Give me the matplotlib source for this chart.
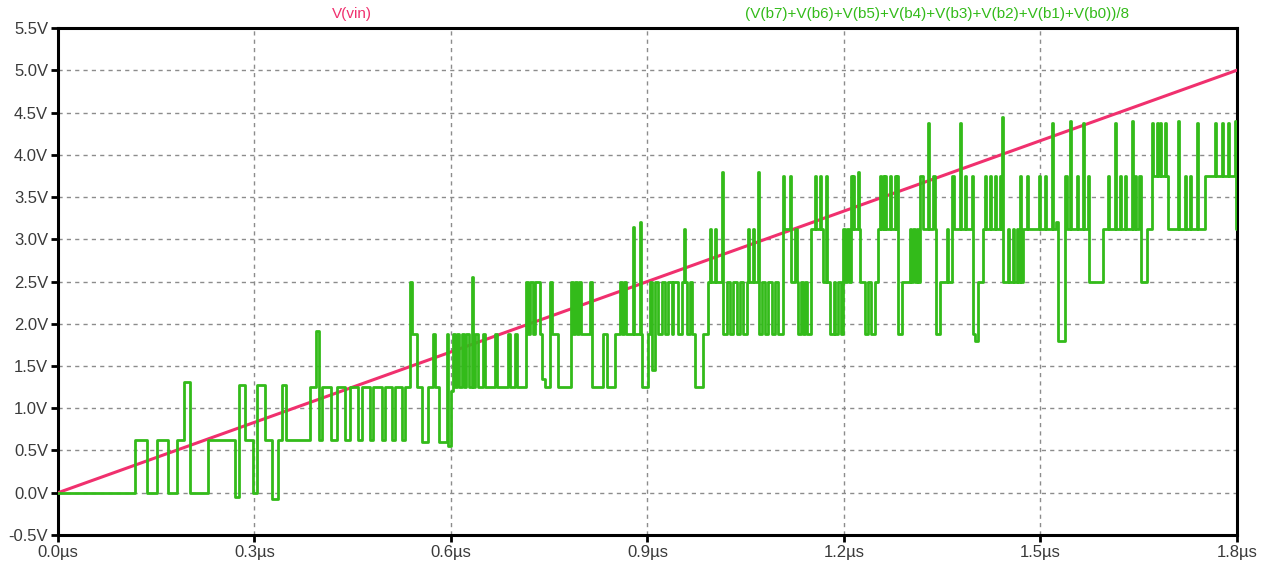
import numpy as np
import matplotlib
matplotlib.use("Agg")
import matplotlib.pyplot as plt
from matplotlib.ticker import FuncFormatter, MultipleLocator

plt.rcParams['font.family'] = ['Liberation Sans', 'DejaVu Sans']

# V(vin): linear ramp
vin_t = [0.0, 1.8]   # us
vin_v = [0.0, 5.0]   # V

# DAC sum (V(b7)+...+V(b0))/8, step points as (time in ns, volts)
seg_a = [(0, 0), (118, 0.625), (136, 0), (151, 0.625), (168, 0), (182, 0.625), (192, 1.31),
         (202, 0), (229, 0.625), (270, -0.05), (276, 1.28), (285, 0.625), (298, 0), (304, 1.28),
         (316, 0.625), (327, -0.07), (336, 0.625), (342, 1.28), (348, 0.625)]
seg_b = [(385, 1.25), (394, 1.92), (398, 0.625), (403, 1.25), (417, 0.625), (426, 1.25),
         (438, 0.625), (446, 1.25), (458, 0.625), (464, 1.25), (476, 0.625), (481, 1.25),
         (495, 0.625), (499, 1.25), (510, 0.625), (514, 1.25), (525, 0.625), (530, 1.25),
         (537, 2.5), (540, 1.875), (548, 1.25), (556, 0.6), (565, 1.25), (573, 1.875),
         (576, 1.25), (582, 0.6), (594, 1.875), (595, 0.55), (600, 1.2)]
seg_c = [(603, 1.875), (606, 1.25), (609, 1.875), (612, 1.25), (617, 1.875), (620, 1.25),
         (623, 1.875), (627, 1.25), (632, 2.55), (634, 1.25), (637, 1.875), (641, 1.25),
         (649, 1.875), (652, 1.25), (667, 1.875), (670, 1.25), (687, 1.875), (690, 1.25),
         (698, 1.875), (701, 1.25), (715, 2.5)]
seg_d = [(718, 1.875), (721, 2.5), (725, 1.875), (728, 2.5), (736, 1.875), (739, 1.35),
         (744, 1.25), (751, 2.5), (754, 1.875), (763, 1.25), (783, 2.5), (786, 1.875),
         (789, 2.5), (792, 1.875), (795, 2.5), (798, 1.875), (812, 2.5), (815, 1.25),
         (832, 1.875), (838, 1.25), (850, 1.875), (858, 2.5), (861, 1.875), (864, 2.5),
         (867, 1.875), (878, 3.15), (879, 1.875), (889, 3.2), (890, 1.875), (892, 1.25),
         (901, 1.875), (904, 2.5), (907, 1.45), (911, 2.5)]
seg_e = [(916, 1.875), (922, 2.5), (927, 1.875), (931, 2.5), (937, 1.875), (939, 2.5),
         (947, 1.875), (953, 2.5), (956, 3.125), (957, 2.5), (960, 1.875), (965, 2.5),
         (968, 1.875), (973, 1.25), (985, 1.875), (992, 2.5), (995, 3.125), (997, 2.5),
         (1003, 3.125), (1005, 2.5), (1014, 3.8), (1015, 1.875), (1021, 2.5), (1026, 1.875),
         (1031, 2.5), (1037, 1.875), (1041, 2.5), (1046, 1.875), (1052, 2.5), (1053, 3.125),
         (1055, 2.5), (1061, 3.125), (1063, 2.5), (1069, 3.8), (1070, 1.875), (1075, 2.5),
         (1079, 1.875), (1084, 2.5), (1090, 1.875), (1095, 2.5), (1099, 1.875)]
seg_f = [(1107, 3.75), (1108, 3.125), (1118, 3.75), (1119, 2.5), (1125, 3.125), (1128, 2.5),
         (1130, 1.875), (1134, 2.5), (1137, 1.875), (1140, 2.5), (1144, 1.875), (1150, 3.125),
         (1156, 3.75), (1157, 3.125), (1163, 3.75), (1165, 3.125), (1168, 2.5), (1173, 3.75),
         (1174, 2.5), (1179, 1.875), (1185, 2.5), (1186, 1.875), (1191, 2.5), (1195, 1.875),
         (1198, 3.125), (1202, 2.5), (1205, 3.125), (1208, 2.5), (1211, 3.75), (1212, 3.125),
         (1214, 3.75), (1215, 3.125), (1221, 3.8), (1223, 3.125), (1224, 2.5), (1232, 1.875),
         (1237, 2.5), (1241, 1.875), (1247, 2.5), (1252, 3.125), (1255, 3.75), (1256, 3.125),
         (1260, 3.75), (1261, 3.125), (1263, 3.75), (1264, 3.125), (1270, 3.75), (1272, 3.125),
         (1278, 3.75), (1279, 3.125)]
seg_g = [(1281, 3.75), (1282, 1.875), (1289, 2.5), (1301, 3.125), (1302, 2.5), (1305, 3.125),
         (1308, 2.5), (1311, 3.125), (1313, 2.5), (1316, 3.75), (1321, 3.125), (1328, 4.375),
         (1330, 3.125), (1336, 3.75), (1339, 3.125), (1340, 1.875), (1347, 2.5), (1357, 3.125),
         (1359, 2.5), (1365, 3.75), (1368, 3.125), (1377, 4.375), (1379, 3.125), (1385, 3.75),
         (1386, 3.125), (1395, 3.75), (1397, 1.875), (1400, 1.8), (1405, 2.5), (1412, 3.125),
         (1415, 3.75), (1417, 3.125), (1423, 3.75), (1424, 3.125), (1431, 3.75), (1432, 3.125),
         (1438, 3.75), (1440, 3.125), (1441, 4.45), (1443, 2.5), (1450, 3.125), (1452, 2.5),
         (1458, 3.125), (1460, 2.5), (1464, 3.125), (1466, 2.5), (1469, 3.75), (1470, 2.5)]
seg_h = [(1473, 3.125), (1479, 3.75), (1481, 3.125), (1498, 3.75), (1499, 3.125), (1507, 3.75),
         (1508, 3.125), (1518, 4.375), (1519, 3.125), (1524, 3.2), (1527, 1.8), (1537, 3.75),
         (1540, 3.125), (1545, 4.4), (1547, 3.125), (1556, 3.75), (1557, 3.125), (1565, 4.375),
         (1566, 3.125), (1573, 3.75), (1574, 2.5), (1595, 3.125), (1603, 3.75), (1605, 3.125),
         (1614, 4.375), (1615, 3.125), (1621, 3.75), (1623, 3.125), (1629, 3.75), (1631, 3.125),
         (1640, 4.4), (1641, 3.125), (1644, 3.75), (1646, 3.125)]
seg_i = [(1650, 3.75), (1653, 2.5), (1663, 3.125), (1670, 4.375), (1672, 3.75), (1678, 4.375),
         (1679, 3.75), (1682, 4.375), (1684, 3.75), (1690, 4.375), (1692, 3.75), (1695, 3.125),
         (1710, 4.4), (1711, 3.125), (1721, 3.75), (1722, 3.125), (1728, 3.75), (1730, 3.125),
         (1739, 4.375), (1740, 3.125), (1751, 3.75), (1766, 4.375), (1768, 3.75), (1777, 4.375),
         (1779, 3.75), (1786, 4.375), (1788, 3.75), (1797, 4.4), (1798, 3.125), (1800, 3.125)]

y_ticks = np.arange(-0.5, 5.51, 0.5)
x_ticks = np.arange(0.0, 1.81, 0.3)

pts = seg_a + seg_b + seg_c + seg_d + seg_e + seg_f + seg_g + seg_h + seg_i
dac_t = np.array([p[0] for p in pts]) / 1000.0
dac_v = np.array([p[1] for p in pts])

fig = plt.figure(figsize=(12.65, 5.68), dpi=100)
ax = fig.add_axes([0.0458, 0.0581, 0.9320, 0.8926])

ax.plot(vin_t, vin_v, color='#f0306e', linewidth=2.2, zorder=3)
ax.step(dac_t, dac_v, where='post', color='#33bb1a', linewidth=2.0, zorder=4)

ax.set_xlim(0, 1.8)
ax.set_ylim(-0.5, 5.5)
ax.set_xticks(x_ticks)
ax.set_yticks(y_ticks)
ax.xaxis.set_major_formatter(FuncFormatter(lambda x, p: f"{x:.1f}\u00b5s"))
ax.yaxis.set_major_formatter(FuncFormatter(lambda y, p: f"{y:.1f}V"))
ax.tick_params(direction='out', length=5, width=2, colors='black',
               labelcolor='#3a3a3a', labelsize=12, pad=2)
ax.grid(True, color='#8c8c8c', linestyle=(0, (3, 3)), linewidth=1.0)
for s in ax.spines.values():
    s.set_linewidth(2.2)
    s.set_color('black')

ax.text(0.249, 1.028, 'V(vin)', color='#f0306e', fontsize=11,
        ha='center', va='center', transform=ax.transAxes)
ax.text(0.746, 1.028, '(V(b7)+V(b6)+V(b5)+V(b4)+V(b3)+V(b2)+V(b1)+V(b0))/8',
        color='#33bb1a', fontsize=11, ha='center', va='center', transform=ax.transAxes)

fig.savefig('out.png', dpi=100)
